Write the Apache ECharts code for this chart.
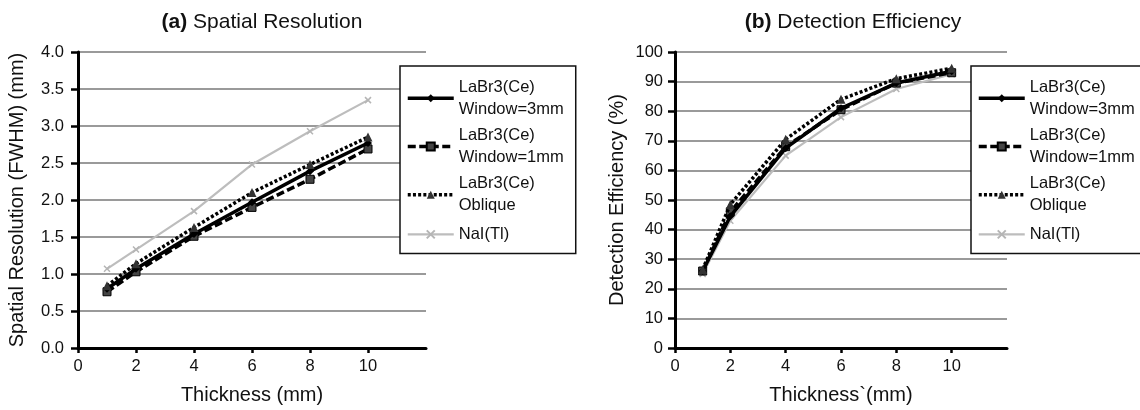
<!DOCTYPE html>
<html>
<head>
<meta charset="utf-8">
<script src="https://cdn.jsdelivr.net/npm/echarts@6/dist/echarts.min.js"></script>
<style>html,body{margin:0;padding:0;background:#fff}#c{width:1140px;height:410px}</style>
</head>
<body>
<div id="c"></div>
<script>
// ---- data ----
const thickness = [1, 2, 4, 6, 8, 10];
const xTickLabels = [0, 2, 4, 6, 8, 10];
const seriesNames = ['LaBr3(Ce)\nWindow=3mm', 'LaBr3(Ce)\nWindow=1mm', 'LaBr3(Ce)\nOblique', 'NaI(Tl)'];
// (a) Spatial Resolution (FWHM) (mm)
const resW3  = [0.80, 1.07, 1.54, 1.97, 2.39, 2.77];
const resW1  = [0.76, 1.03, 1.51, 1.90, 2.28, 2.69];
const resObl = [0.84, 1.14, 1.63, 2.10, 2.48, 2.85];
const resNaI = [1.07, 1.33, 1.85, 2.48, 2.93, 3.35];
// (b) Detection Efficiency (%)
const effW3  = [26.0, 44.5, 67.5, 81.0, 89.5, 93.5];
const effW1  = [26.0, 46.0, 68.0, 80.5, 89.5, 93.0];
const effObl = [26.5, 48.5, 70.5, 84.0, 91.0, 94.5];
const effNaI = [25.0, 43.0, 65.0, 78.0, 87.5, 92.5];

const FONT = '"Liberation Sans", Arial, Helvetica, sans-serif';
const INK = '#111';

const pairs = arr => thickness.map((t, i) => [t, arr[i]]);

const styles = [
  { lineStyle: { color: '#000', width: 3.5, type: 'solid' }, symbol: 'diamond', symbolSize: 8,
    itemStyle: { color: '#000' }, z: 4 },
  { lineStyle: { color: '#000', width: 3.5, type: [8, 3.5] }, symbol: 'rect', symbolSize: 8,
    itemStyle: { color: '#444', borderColor: '#000', borderWidth: 1 }, z: 3 },
  { lineStyle: { color: '#000', width: 3.5, type: [3, 2.2] }, symbol: 'triangle', symbolSize: 9,
    itemStyle: { color: '#333' }, z: 5 },
  { lineStyle: { color: '#bdbdbd', width: 2.2, type: 'solid' }, symbol: 'path://M0 0L10 10M10 0L0 10', symbolSize: 6,
    itemStyle: { color: '#c4c4c4', borderColor: '#b5b5b5', borderWidth: 1.5 }, z: 2 }
];

function makeSeries(dataArrs, axisIdx) {
  return dataArrs.map((arr, i) => Object.assign({
    type: 'line',
    name: seriesNames[i],
    xAxisIndex: axisIdx,
    yAxisIndex: axisIdx,
    data: pairs(arr),
    showSymbol: true,
    animation: false
  }, styles[i]));
}

function xAxisCfg(gridIndex, name) {
  return {
    type: 'value', gridIndex, min: 0, max: 12, interval: 2,
    name, nameLocation: 'middle', nameGap: 37,
    nameTextStyle: { fontSize: 20, color: INK, fontFamily: FONT },
    axisLine: { show: true, lineStyle: { color: '#000', width: 3 } },
    axisTick: { show: true, length: 5, lineStyle: { color: '#000', width: 2.5 }, customValues: xTickLabels },
    axisLabel: { fontSize: 16.5, color: INK, fontFamily: FONT, margin: 10, customValues: xTickLabels },
    splitLine: { show: false }
  };
}

function yAxisCfg(gridIndex, name, max, interval, nameGap, margin, fmt) {
  return {
    type: 'value', gridIndex, min: 0, max, interval,
    name, nameLocation: 'middle', nameGap,
    nameTextStyle: { fontSize: 20, color: INK, fontFamily: FONT },
    axisLine: { show: true, lineStyle: { color: '#000', width: 3 } },
    axisTick: { show: true, length: 7, lineStyle: { color: '#000', width: 2.5 } },
    axisLabel: { fontSize: 16.5, color: INK, fontFamily: FONT, margin, formatter: fmt },
    splitLine: { show: true, lineStyle: { color: '#9a9a9a', width: 2.2 } }
  };
}

function legendCfg(left, padRight) {
  return {
    orient: 'vertical', left, top: 66,
    itemWidth: 46, itemHeight: 10, itemGap: 9.7,
    padding: [13, padRight, 8.5, 6],
    borderColor: '#111', borderWidth: 1.5, backgroundColor: '#fff',
    selectedMode: false,
    lineStyle: { width: 3.5 },
    textStyle: { fontSize: 16.5, lineHeight: 21.5, color: INK, fontFamily: FONT },
    data: seriesNames.map((n, i) => (i < 3 ? { name: n, textStyle: { padding: [0, 0, -21.5, 0] } } : { name: n, lineStyle: { width: 2.2 } }))
  };
}

function titleCfg(text, left) {
  return {
    text, left, top: 12, textAlign: 'center', padding: 0,
    textStyle: {
      fontSize: 21, fontWeight: 'normal', color: INK, fontFamily: FONT,
      rich: { b: { fontSize: 21, fontWeight: 'bold', color: INK, fontFamily: FONT } }
    }
  };
}

const chart = echarts.init(document.getElementById('c'), null, { renderer: 'canvas' });
chart.setOption({
  animation: false,
  backgroundColor: '#fff',
  textStyle: { fontFamily: FONT, color: INK },
  title: [
    titleCfg('{b|(a)} Spatial Resolution', 262),
    titleCfg('{b|(b)} Detection Efficiency', 853)
  ],
  grid: [
    { left: 78, top: 52, width: 348, height: 298 },
    { left: 675, top: 52, width: 332, height: 298 }
  ],
  xAxis: [
    xAxisCfg(0, 'Thickness (mm)'),
    xAxisCfg(1, 'Thickness`(mm)')
  ],
  yAxis: [
    yAxisCfg(0, 'Spatial Resolution (FWHM) (mm)', 4, 0.5, 51, 14, v => v.toFixed(1)),
    yAxisCfg(1, 'Detection Efficiency (%)', 100, 10, 48, 12, v => String(v))
  ],
  legend: [legendCfg(400, 12), legendCfg(971, 200)],
  series: makeSeries([resW3, resW1, resObl, resNaI], 0)
    .concat(makeSeries([effW3, effW1, effObl, effNaI], 1))
});
</script>
</body>
</html>
